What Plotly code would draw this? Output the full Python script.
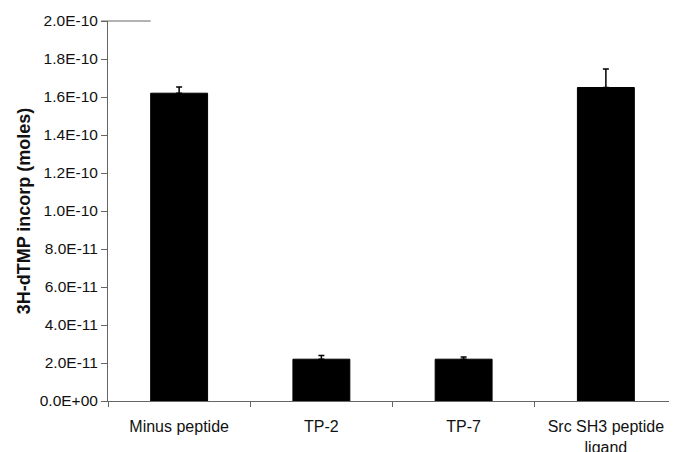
import plotly.graph_objects as go

categories = ["Minus peptide", "TP-2", "TP-7", "Src SH3 peptide<br>ligand"]
values = [1.62e-10, 2.2e-11, 2.2e-11, 1.65e-10]
errors = [3.2e-12, 1.9e-12, 1.2e-12, 9.7e-12]
y_ticks = [i * 2e-11 for i in range(11)]
y_tick_labels = ["0.0E+00", "2.0E-11", "4.0E-11", "6.0E-11", "8.0E-11", "1.0E-10",
                 "1.2E-10", "1.4E-10", "1.6E-10", "1.8E-10", "2.0E-10"]

fig = go.Figure(go.Bar(
    x=categories, y=values,
    marker=dict(color="black", line=dict(color="black", width=1)),
    error_y=dict(type="data", array=errors, arrayminus=[0] * len(errors),
                 symmetric=False, color="black", thickness=1.5, width=3),
))

# page body has an 8px default margin, so the figure is sized/offset to compensate
fig.update_layout(
    width=669, height=444,
    margin=dict(l=100, r=0, t=13, b=51, autoexpand=False),
    paper_bgcolor="white", plot_bgcolor="white",
    font=dict(family="Liberation Sans, Arial, sans-serif", color="#111"),
    bargap=0.6,
    showlegend=False,
)
fig.update_xaxes(
    automargin=False,
    showline=True, linecolor="#666", linewidth=1,
    ticks="outside", tickson="boundaries", ticklen=5, tickcolor="#666",
    tickfont=dict(size=16), ticklabelstandoff=11,
    showgrid=False,
)
fig.update_yaxes(
    automargin=False,
    range=[0, 2e-10], tickvals=y_ticks, ticktext=y_tick_labels,
    showline=True, linecolor="#666", linewidth=1,
    ticks="outside", ticklen=6, tickcolor="#666",
    tickfont=dict(size=15.5), showgrid=False, zeroline=False,
    title=dict(text="<b>3H-dTMP incorp (moles)</b>", font=dict(size=18), standoff=4),
)
fig.add_shape(type="line", xref="paper", yref="paper", x0=-0.012, x1=0.075, y0=1, y1=1,
              line=dict(color="#666", width=1))

fig.write_html("out.html")
